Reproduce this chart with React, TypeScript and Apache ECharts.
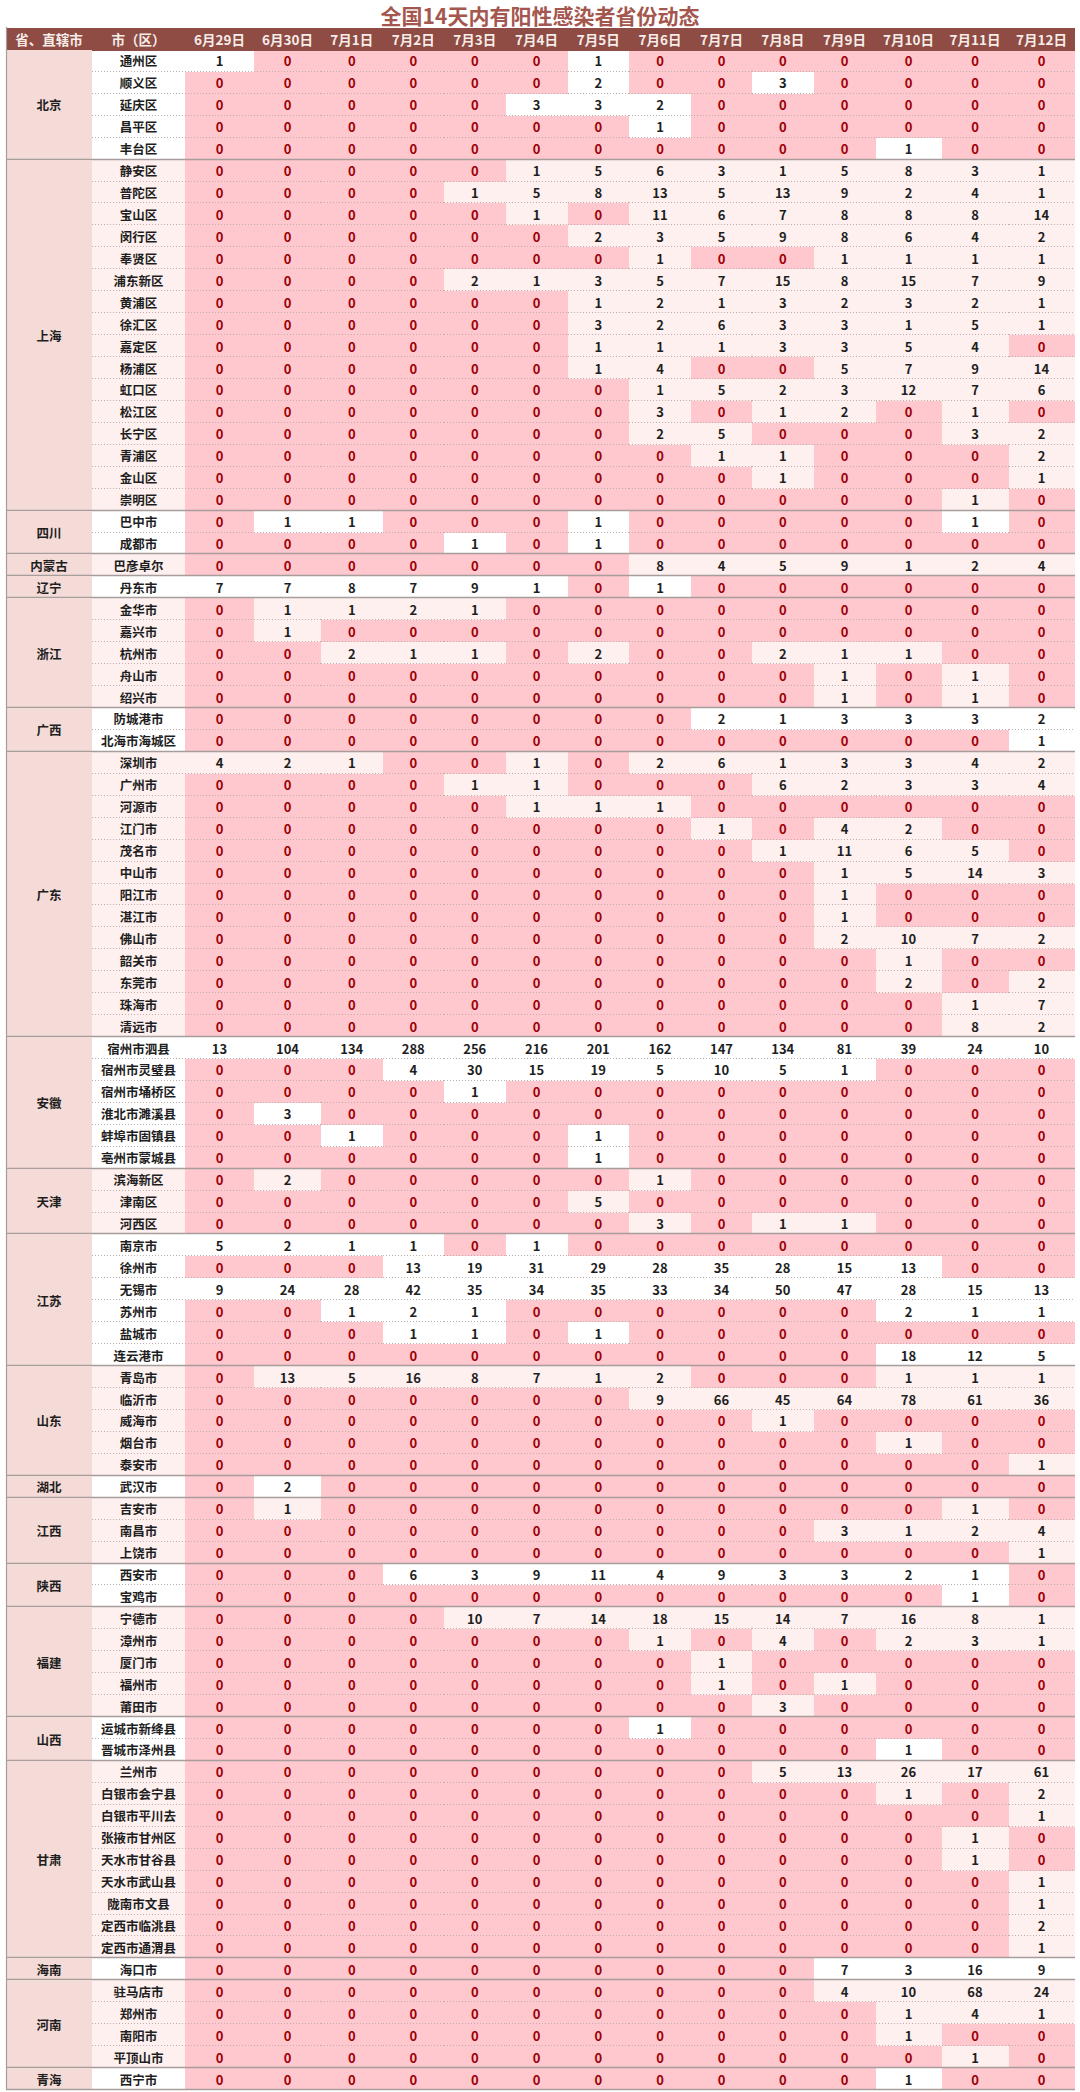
import React, { useEffect, useRef } from 'react';
import * as echarts from 'echarts';

const title = '全国14天内有阳性感染者省份动态';
const headerLabels = ['省、直辖市', '市（区）'];
const dates = ['6月29日', '6月30日', '7月1日', '7月2日', '7月3日', '7月4日', '7月5日', '7月6日', '7月7日', '7月8日', '7月9日', '7月10日', '7月11日', '7月12日'];

const provinces = ['北京', '上海', '四川', '内蒙古', '辽宁', '浙江', '广西', '广东', '安徽', '天津', '江苏', '山东', '湖北', '江西', '陕西', '福建', '山西', '甘肃', '海南', '河南', '青海'];

const cityNames: string[][] = [
  ['通州区', '顺义区', '延庆区', '昌平区', '丰台区'],
  ['静安区', '普陀区', '宝山区', '闵行区', '奉贤区', '浦东新区', '黄浦区', '徐汇区', '嘉定区', '杨浦区', '虹口区', '松江区', '长宁区', '青浦区', '金山区', '崇明区'],
  ['巴中市', '成都市'],
  ['巴彦卓尔'],
  ['丹东市'],
  ['金华市', '嘉兴市', '杭州市', '舟山市', '绍兴市'],
  ['防城港市', '北海市海城区'],
  ['深圳市', '广州市', '河源市', '江门市', '茂名市', '中山市', '阳江市', '湛江市', '佛山市', '韶关市', '东莞市', '珠海市', '清远市'],
  ['宿州市泗县', '宿州市灵璧县', '宿州市埇桥区', '淮北市濉溪县', '蚌埠市固镇县', '亳州市蒙城县'],
  ['滨海新区', '津南区', '河西区'],
  ['南京市', '徐州市', '无锡市', '苏州市', '盐城市', '连云港市'],
  ['青岛市', '临沂市', '威海市', '烟台市', '泰安市'],
  ['武汉市'],
  ['吉安市', '南昌市', '上饶市'],
  ['西安市', '宝鸡市'],
  ['宁德市', '漳州市', '厦门市', '福州市', '莆田市'],
  ['运城市新绛县', '晋城市泽州县'],
  ['兰州市', '白银市会宁县', '白银市平川去', '张掖市甘州区', '天水市甘谷县', '天水市武山县', '陇南市文县', '定西市临洮县', '定西市通渭县'],
  ['海口市'],
  ['驻马店市', '郑州市', '南阳市', '平顶山市'],
  ['西宁市'],
];

const beijing = [
  [1, 0, 0, 0, 0, 0, 1, 0, 0, 0, 0, 0, 0, 0],
  [0, 0, 0, 0, 0, 0, 2, 0, 0, 3, 0, 0, 0, 0],
  [0, 0, 0, 0, 0, 3, 3, 2, 0, 0, 0, 0, 0, 0],
  [0, 0, 0, 0, 0, 0, 0, 1, 0, 0, 0, 0, 0, 0],
  [0, 0, 0, 0, 0, 0, 0, 0, 0, 0, 0, 1, 0, 0],
];
const shanghai = [
  [0, 0, 0, 0, 0, 1, 5, 6, 3, 1, 5, 8, 3, 1],
  [0, 0, 0, 0, 1, 5, 8, 13, 5, 13, 9, 2, 4, 1],
  [0, 0, 0, 0, 0, 1, 0, 11, 6, 7, 8, 8, 8, 14],
  [0, 0, 0, 0, 0, 0, 2, 3, 5, 9, 8, 6, 4, 2],
  [0, 0, 0, 0, 0, 0, 0, 1, 0, 0, 1, 1, 1, 1],
  [0, 0, 0, 0, 2, 1, 3, 5, 7, 15, 8, 15, 7, 9],
  [0, 0, 0, 0, 0, 0, 1, 2, 1, 3, 2, 3, 2, 1],
  [0, 0, 0, 0, 0, 0, 3, 2, 6, 3, 3, 1, 5, 1],
  [0, 0, 0, 0, 0, 0, 1, 1, 1, 3, 3, 5, 4, 0],
  [0, 0, 0, 0, 0, 0, 1, 4, 0, 0, 5, 7, 9, 14],
  [0, 0, 0, 0, 0, 0, 0, 1, 5, 2, 3, 12, 7, 6],
  [0, 0, 0, 0, 0, 0, 0, 3, 0, 1, 2, 0, 1, 0],
  [0, 0, 0, 0, 0, 0, 0, 2, 5, 0, 0, 0, 3, 2],
  [0, 0, 0, 0, 0, 0, 0, 0, 1, 1, 0, 0, 0, 2],
  [0, 0, 0, 0, 0, 0, 0, 0, 0, 1, 0, 0, 0, 1],
  [0, 0, 0, 0, 0, 0, 0, 0, 0, 0, 0, 0, 1, 0],
];
const sichuan = [
  [0, 1, 1, 0, 0, 0, 1, 0, 0, 0, 0, 0, 1, 0],
  [0, 0, 0, 0, 1, 0, 1, 0, 0, 0, 0, 0, 0, 0],
];
const neimenggu = [[0, 0, 0, 0, 0, 0, 0, 8, 4, 5, 9, 1, 2, 4]];
const liaoning = [[7, 7, 8, 7, 9, 1, 0, 1, 0, 0, 0, 0, 0, 0]];
const zhejiang = [
  [0, 1, 1, 2, 1, 0, 0, 0, 0, 0, 0, 0, 0, 0],
  [0, 1, 0, 0, 0, 0, 0, 0, 0, 0, 0, 0, 0, 0],
  [0, 0, 2, 1, 1, 0, 2, 0, 0, 2, 1, 1, 0, 0],
  [0, 0, 0, 0, 0, 0, 0, 0, 0, 0, 1, 0, 1, 0],
  [0, 0, 0, 0, 0, 0, 0, 0, 0, 0, 1, 0, 1, 0],
];
const guangxi = [
  [0, 0, 0, 0, 0, 0, 0, 0, 2, 1, 3, 3, 3, 2],
  [0, 0, 0, 0, 0, 0, 0, 0, 0, 0, 0, 0, 0, 1],
];
const guangdong = [
  [4, 2, 1, 0, 0, 1, 0, 2, 6, 1, 3, 3, 4, 2],
  [0, 0, 0, 0, 1, 1, 0, 0, 0, 6, 2, 3, 3, 4],
  [0, 0, 0, 0, 0, 1, 1, 1, 0, 0, 0, 0, 0, 0],
  [0, 0, 0, 0, 0, 0, 0, 0, 1, 0, 4, 2, 0, 0],
  [0, 0, 0, 0, 0, 0, 0, 0, 0, 1, 11, 6, 5, 0],
  [0, 0, 0, 0, 0, 0, 0, 0, 0, 0, 1, 5, 14, 3],
  [0, 0, 0, 0, 0, 0, 0, 0, 0, 0, 1, 0, 0, 0],
  [0, 0, 0, 0, 0, 0, 0, 0, 0, 0, 1, 0, 0, 0],
  [0, 0, 0, 0, 0, 0, 0, 0, 0, 0, 2, 10, 7, 2],
  [0, 0, 0, 0, 0, 0, 0, 0, 0, 0, 0, 1, 0, 0],
  [0, 0, 0, 0, 0, 0, 0, 0, 0, 0, 0, 2, 0, 2],
  [0, 0, 0, 0, 0, 0, 0, 0, 0, 0, 0, 0, 1, 7],
  [0, 0, 0, 0, 0, 0, 0, 0, 0, 0, 0, 0, 8, 2],
];
const anhui = [
  [13, 104, 134, 288, 256, 216, 201, 162, 147, 134, 81, 39, 24, 10],
  [0, 0, 0, 4, 30, 15, 19, 5, 10, 5, 1, 0, 0, 0],
  [0, 0, 0, 0, 1, 0, 0, 0, 0, 0, 0, 0, 0, 0],
  [0, 3, 0, 0, 0, 0, 0, 0, 0, 0, 0, 0, 0, 0],
  [0, 0, 1, 0, 0, 0, 1, 0, 0, 0, 0, 0, 0, 0],
  [0, 0, 0, 0, 0, 0, 1, 0, 0, 0, 0, 0, 0, 0],
];
const tianjin = [
  [0, 2, 0, 0, 0, 0, 0, 1, 0, 0, 0, 0, 0, 0],
  [0, 0, 0, 0, 0, 0, 5, 0, 0, 0, 0, 0, 0, 0],
  [0, 0, 0, 0, 0, 0, 0, 3, 0, 1, 1, 0, 0, 0],
];
const jiangsu = [
  [5, 2, 1, 1, 0, 1, 0, 0, 0, 0, 0, 0, 0, 0],
  [0, 0, 0, 13, 19, 31, 29, 28, 35, 28, 15, 13, 0, 0],
  [9, 24, 28, 42, 35, 34, 35, 33, 34, 50, 47, 28, 15, 13],
  [0, 0, 1, 2, 1, 0, 0, 0, 0, 0, 0, 2, 1, 1],
  [0, 0, 0, 1, 1, 0, 1, 0, 0, 0, 0, 0, 0, 0],
  [0, 0, 0, 0, 0, 0, 0, 0, 0, 0, 0, 18, 12, 5],
];
const shandong = [
  [0, 13, 5, 16, 8, 7, 1, 2, 0, 0, 0, 1, 1, 1],
  [0, 0, 0, 0, 0, 0, 0, 9, 66, 45, 64, 78, 61, 36],
  [0, 0, 0, 0, 0, 0, 0, 0, 0, 1, 0, 0, 0, 0],
  [0, 0, 0, 0, 0, 0, 0, 0, 0, 0, 0, 1, 0, 0],
  [0, 0, 0, 0, 0, 0, 0, 0, 0, 0, 0, 0, 0, 1],
];
const hubei = [[0, 2, 0, 0, 0, 0, 0, 0, 0, 0, 0, 0, 0, 0]];
const jiangxi = [
  [0, 1, 0, 0, 0, 0, 0, 0, 0, 0, 0, 0, 1, 0],
  [0, 0, 0, 0, 0, 0, 0, 0, 0, 0, 3, 1, 2, 4],
  [0, 0, 0, 0, 0, 0, 0, 0, 0, 0, 0, 0, 0, 1],
];
const shaanxi = [
  [0, 0, 0, 6, 3, 9, 11, 4, 9, 3, 3, 2, 1, 0],
  [0, 0, 0, 0, 0, 0, 0, 0, 0, 0, 0, 0, 1, 0],
];
const fujian = [
  [0, 0, 0, 0, 10, 7, 14, 18, 15, 14, 7, 16, 8, 1],
  [0, 0, 0, 0, 0, 0, 0, 1, 0, 4, 0, 2, 3, 1],
  [0, 0, 0, 0, 0, 0, 0, 0, 1, 0, 0, 0, 0, 0],
  [0, 0, 0, 0, 0, 0, 0, 0, 1, 0, 1, 0, 0, 0],
  [0, 0, 0, 0, 0, 0, 0, 0, 0, 3, 0, 0, 0, 0],
];
const shanxi = [
  [0, 0, 0, 0, 0, 0, 0, 1, 0, 0, 0, 0, 0, 0],
  [0, 0, 0, 0, 0, 0, 0, 0, 0, 0, 0, 1, 0, 0],
];
const gansu = [
  [0, 0, 0, 0, 0, 0, 0, 0, 0, 5, 13, 26, 17, 61],
  [0, 0, 0, 0, 0, 0, 0, 0, 0, 0, 0, 1, 0, 2],
  [0, 0, 0, 0, 0, 0, 0, 0, 0, 0, 0, 0, 0, 1],
  [0, 0, 0, 0, 0, 0, 0, 0, 0, 0, 0, 0, 1, 0],
  [0, 0, 0, 0, 0, 0, 0, 0, 0, 0, 0, 0, 1, 0],
  [0, 0, 0, 0, 0, 0, 0, 0, 0, 0, 0, 0, 0, 1],
  [0, 0, 0, 0, 0, 0, 0, 0, 0, 0, 0, 0, 0, 1],
  [0, 0, 0, 0, 0, 0, 0, 0, 0, 0, 0, 0, 0, 2],
  [0, 0, 0, 0, 0, 0, 0, 0, 0, 0, 0, 0, 0, 1],
];
const hainan = [[0, 0, 0, 0, 0, 0, 0, 0, 0, 0, 7, 3, 16, 9]];
const henan = [
  [0, 0, 0, 0, 0, 0, 0, 0, 0, 0, 4, 10, 68, 24],
  [0, 0, 0, 0, 0, 0, 0, 0, 0, 0, 0, 1, 4, 1],
  [0, 0, 0, 0, 0, 0, 0, 0, 0, 0, 0, 1, 0, 0],
  [0, 0, 0, 0, 0, 0, 0, 0, 0, 0, 0, 0, 1, 0],
];
const qinghai = [[0, 0, 0, 0, 0, 0, 0, 0, 0, 0, 0, 1, 0, 0]];

const provinceCounts: number[][][] = [beijing, shanghai, sichuan, neimenggu, liaoning, zhejiang, guangxi, guangdong, anhui, tianjin, jiangsu, shandong, hubei, jiangxi, shaanxi, fujian, shanxi, gansu, hainan, henan, qinghai];

// ---------- layout (column widths in x-axis units = px) ----------
const PROV_W = 86;
const CITY_W = 93;
const DATE_W = [69, 67, 61.5, 61.5, 61.5, 62, 61.5, 62, 61, 61.5, 62, 66, 67, 66];

const FONT = '"Noto Sans CJK SC", "Noto Sans", sans-serif';
const C_ZERO_BG = '#ffc7ce';
const C_ZERO_TX = '#9c0006';
const C_TINT = '#fdf0ef';
const C_PROV = '#f5dbd7';
const C_HEAD = '#8e4c44';
const C_HEAD_TX = '#f7ece8';
const C_SEP = '#a79d9c';
const C_DOT = '#bfaeae';

type Row = { prov: number; city: string; counts: number[] };
const rows: Row[] = [];
provinces.forEach((_, pi) => {
  cityNames[pi].forEach((c, ci) => rows.push({ prov: pi, city: c, counts: provinceCounts[pi][ci] }));
});

const colEdges: number[] = [0];
[PROV_W, CITY_W, ...DATE_W].forEach((w) => colEdges.push(colEdges[colEdges.length - 1] + w));
const X_MAX = colEdges[colEdges.length - 1];

const yCats = ['header', ...rows.map((r) => r.city)];

function box(api: any, c0: number, c1: number, r0: number, r1: number) {
  const a = api.coord([colEdges[c0], r0]);
  const b = api.coord([colEdges[c1], r1]);
  const h = api.size([0, 1])[1];
  const x0 = Math.round(a[0]);
  const x1 = Math.round(b[0]);
  const y0 = Math.round(a[1] - h / 2);
  const y1 = Math.round(b[1] + h / 2);
  return { x0, x1, y0, y1, cx: (a[0] + b[0]) / 2, cy: (a[1] + b[1]) / 2 };
}

function buildOption(): any {
  const cellData: number[][] = [];
  rows.forEach((r, ri) => {
    r.counts.forEach((v, j) => cellData.push([j, ri + 1, v, r.prov % 2]));
  });
  const cityData = rows.map((r, ri) => [0, ri + 1, r.prov % 2]);
  const headText = [...headerLabels, ...dates];
  const headData = headText.map((_, i) => [i, 0]);
  const provData: number[][] = [];
  let start = 1;
  provinces.forEach((_, pi) => {
    const n = cityNames[pi].length;
    provData.push([0, start, start + n - 1, pi]);
    start += n;
  });

  return {
    animation: false,
    backgroundColor: '#ffffff',
    title: {
      text: title,
      left: 'center',
      top: 4,
      padding: 0,
      textStyle: { color: '#a4574e', fontSize: 21, fontWeight: 'bold', fontFamily: FONT, lineHeight: 22 },
    },
    grid: { left: 6, top: 28, width: X_MAX, height: 2062 },
    xAxis: { type: 'value', min: 0, max: X_MAX, show: false },
    yAxis: {
      type: 'category',
      data: yCats,
      inverse: true,
      show: false,
    },
    series: [
      {
        type: 'custom',
        name: 'cells',
        silent: true,
        data: cellData,
        renderItem: (params: any, api: any) => {
          const j = api.value(0);
          const r = api.value(1);
          const v = api.value(2);
          const tint = api.value(3);
          const b = box(api, j + 2, j + 3, r, r);
          const zero = v === 0;
          return {
            type: 'group',
            children: [
              {
                type: 'rect',
                shape: { x: b.x0, y: b.y0, width: b.x1 - b.x0, height: b.y1 - b.y0 },
                style: { fill: zero ? C_ZERO_BG : tint ? C_TINT : '#ffffff' },
              },
              {
                type: 'line',
                shape: { x1: b.x0, y1: b.y1 - 0.5, x2: b.x1, y2: b.y1 - 0.5 },
                style: { stroke: C_DOT, lineWidth: 1, lineDash: [1, 2] },
              },
              {
                type: 'text',
                style: {
                  text: String(v),
                  x: b.cx,
                  y: b.cy,
                  align: 'center',
                  verticalAlign: 'middle',
                  fill: zero ? C_ZERO_TX : '#1e1e1e',
                  fontSize: 13,
                  fontWeight: 'bold',
                  fontFamily: FONT,
                },
              },
            ],
          };
        },
      },
      {
        type: 'custom',
        name: 'cities',
        silent: true,
        data: cityData,
        renderItem: (params: any, api: any) => {
          const r = api.value(1);
          const tint = api.value(2);
          const b = box(api, 1, 2, r, r);
          return {
            type: 'group',
            children: [
              {
                type: 'rect',
                shape: { x: b.x0, y: b.y0, width: b.x1 - b.x0, height: b.y1 - b.y0 },
                style: { fill: tint ? C_TINT : '#ffffff' },
              },
              {
                type: 'line',
                shape: { x1: b.x0, y1: b.y1 - 0.5, x2: b.x1, y2: b.y1 - 0.5 },
                style: { stroke: C_DOT, lineWidth: 1, lineDash: [1, 2] },
              },
              {
                type: 'text',
                style: {
                  text: rows[params.dataIndex].city,
                  x: b.cx,
                  y: b.cy,
                  align: 'center',
                  verticalAlign: 'middle',
                  fill: '#1e1e1e',
                  fontSize: 12.5,
                  fontWeight: 'bold',
                  fontFamily: FONT,
                },
              },
            ],
          };
        },
      },
      {
        type: 'custom',
        name: 'header',
        silent: true,
        data: headData,
        renderItem: (params: any, api: any) => {
          const c = api.value(0);
          const b = box(api, c, c + 1, 0, 0);
          return {
            type: 'group',
            children: [
              {
                type: 'rect',
                shape: { x: b.x0, y: b.y0, width: b.x1 - b.x0, height: b.y1 - b.y0 + 1 },
                style: { fill: C_HEAD },
              },
              {
                type: 'text',
                style: {
                  text: headText[params.dataIndex],
                  x: b.cx,
                  y: b.cy + 0.5,
                  align: 'center',
                  verticalAlign: 'middle',
                  fill: C_HEAD_TX,
                  fontSize: 13.5,
                  fontWeight: 'bold',
                  fontFamily: FONT,
                },
              },
            ],
          };
        },
      },
      {
        type: 'custom',
        name: 'provinces',
        silent: true,
        data: provData,
        renderItem: (params: any, api: any) => {
          const r0 = api.value(1);
          const r1 = api.value(2);
          const b = box(api, 0, 1, r0, r1);
          const full = box(api, 0, 16, r0, r1);
          return {
            type: 'group',
            children: [
              {
                type: 'rect',
                shape: { x: b.x0, y: b.y0, width: b.x1 - b.x0, height: b.y1 - b.y0 },
                style: { fill: C_PROV },
              },
              {
                type: 'line',
                shape: { x1: full.x0, y1: full.y1 - 0.5, x2: full.x1, y2: full.y1 - 0.5 },
                style: { stroke: C_SEP, lineWidth: 1.5 },
              },
              {
                type: 'line',
                shape: { x1: b.x0 + 0.5, y1: b.y0 - (r0 === 1 ? 23 : 0), x2: b.x0 + 0.5, y2: b.y1 },
                style: { stroke: C_SEP, lineWidth: 1.2 },
              },
              {
                type: 'text',
                style: {
                  text: provinces[params.dataIndex],
                  x: b.cx,
                  y: b.cy,
                  align: 'center',
                  verticalAlign: 'middle',
                  fill: '#1e1e1e',
                  fontSize: 12.5,
                  fontWeight: 'bold',
                  fontFamily: FONT,
                },
              },
            ],
          };
        },
      },
    ],
  };
}

export default function App() {
  const ref = useRef<HTMLDivElement>(null);
  useEffect(() => {
    if (!ref.current) return;
    const chart = echarts.init(ref.current, null, { renderer: 'svg' });
    chart.setOption(buildOption());
    return () => chart.dispose();
  }, []);
  return (
    <div
      ref={ref}
      style={{ position: 'absolute', left: 0, top: 0, width: 1080, height: 2092, background: '#ffffff' }}
    />
  );
}
